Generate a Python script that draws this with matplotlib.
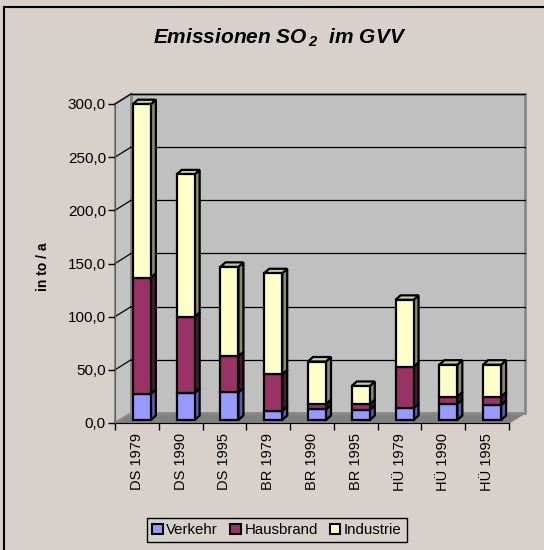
import matplotlib
matplotlib.use("Agg")
import matplotlib.pyplot as plt
from matplotlib.patches import Polygon, Patch, Rectangle

# --- data ---
categories = ["DS 1979", "DS 1990", "DS 1995", "BR 1979", "BR 1990",
              "BR 1995", "HÜ 1979", "HÜ 1990", "HÜ 1995"]
verkehr = [24.5, 25.5, 26.0, 8.5, 10.0, 9.5, 11.0, 15.0, 14.0]
hausbrand = [109.5, 71.5, 34.0, 34.5, 5.0, 5.5, 39.0, 7.0, 8.0]
industrie = [163.0, 134.0, 84.0, 95.0, 40.0, 17.0, 63.0, 30.0, 30.0]
series_names = ["Verkehr", "Hausbrand", "Industrie"]
yticks = [0, 50, 100, 150, 200, 250, 300]

front_colors = ["#9999FF", "#993366", "#FFFFCC"]
side_colors = ["#5C5CA8", "#4A1830", "#8A8A6C"]
top_color = "#CCCCA4"
bg = "#D8D1CB"

plt.rcParams['font.family'] = ['Liberation Sans', 'DejaVu Sans']

W, H = 544, 550
fig = plt.figure(figsize=(W / 100, H / 100), dpi=100)
fig.patch.set_facecolor(bg)

# front plane of the 3D box in pixels
x0, x1 = 115, 509
y_bot, y_top = 423, 104
ax = fig.add_axes([x0 / W, 1 - y_bot / H, (x1 - x0) / W, (y_bot - y_top) / H])
ax.set_xlim(-0.5, len(categories) - 0.5)
ax.set_ylim(0, 300)
ax.patch.set_visible(False)

px_x = (x1 - x0) / len(categories)
px_y = (y_bot - y_top) / 300.0

# wall depth and bar geometry (pixels -> data units)
wdx, wdy = 16 / px_x, 10 / px_y
bdx, bdy = 5 / px_x, 4.5 / px_y
ox, oy = 5 / px_x, 3 / px_y
bw = 18 / px_x

xl, xr = -0.5, len(categories) - 0.5
kw = dict(clip_on=False)
# floor
ax.add_patch(Polygon([(xl, 0), (xr, 0), (xr + wdx, wdy), (xl + wdx, wdy)],
                     closed=True, facecolor="#808080", edgecolor="#808080", lw=1, zorder=1, **kw))
# left wall
ax.add_patch(Polygon([(xl, 0), (xl + wdx, wdy), (xl + wdx, 300 + wdy), (xl, 300)],
                     closed=True, facecolor="#C4C4C4", edgecolor="#8C8C8C", lw=1.5, zorder=1, **kw))
# back wall
ax.add_patch(Polygon([(xl + wdx, wdy), (xr + wdx, wdy), (xr + wdx, 300 + wdy), (xl + wdx, 300 + wdy)],
                     closed=True, facecolor="#C0C0C0", edgecolor="#888888", lw=2, zorder=1, **kw))
for v in yticks[1:]:
    ax.plot([xl + wdx, xr + wdx], [v + wdy, v + wdy], color="black", lw=0.9, zorder=2, **kw)
    ax.plot([xl, xl + wdx], [v, v + wdy], color="black", lw=0.9, zorder=2, **kw)

# stacked bars with fake depth
stacks = [verkehr, hausbrand, industrie]
bottoms = [0.0] * len(categories)
for s, vals in enumerate(stacks):
    for i, v in enumerate(vals):
        b = bottoms[i]
        t = b + v
        left = i - bw / 2 + ox
        right = i + bw / 2 + ox
        ax.bar(left, v, bottom=b + oy, width=bw, align="edge", color=front_colors[s],
               edgecolor="black", lw=1.6, zorder=4, clip_on=False)
        ax.add_patch(Polygon([(right, b + oy), (right + bdx, b + oy + bdy),
                              (right + bdx, t + oy + bdy), (right, t + oy)],
                             closed=True, facecolor=side_colors[s], edgecolor="black",
                             lw=1.6, zorder=3, **kw))
        if s == len(stacks) - 1:
            ax.add_patch(Polygon([(left, t + oy), (left + bdx, t + oy + bdy),
                                  (right + bdx, t + oy + bdy), (right, t + oy)],
                                 closed=True, facecolor=top_color, edgecolor="black",
                                 lw=1.6, zorder=3, **kw))
        bottoms[i] = t

# axes
for side in ["top", "right"]:
    ax.spines[side].set_visible(False)
ax.spines["left"].set_color("#606060")
ax.spines["bottom"].set_color("black")
ax.spines["left"].set_zorder(5)
ax.set_yticks(yticks)
ax.set_yticklabels([f"{v:.1f}".replace(".", ",") for v in yticks], fontsize=11)
ax.tick_params(axis="y", length=5, width=1, pad=1.5, color="black")
ax.set_xticks(range(len(categories)))
ax.set_xticklabels(categories, rotation=90, fontsize=10.5)
ax.set_xticks([k - 0.5 for k in range(len(categories) + 1)], minor=True)
ax.tick_params(axis="x", which="major", length=0, pad=7)
ax.tick_params(axis="x", which="minor", length=5, width=1, color="black")

fig.text(43 / W, 1 - 267 / H, "in to / a", rotation=90, fontsize=10, fontweight="bold",
         ha="center", va="center")

plt.rcParams['mathtext.fontset'] = 'custom'
plt.rcParams['mathtext.it'] = 'Liberation Sans:italic:bold'
plt.rcParams['mathtext.rm'] = 'Liberation Sans:italic:bold'
fig.text(280 / W, 1 - 38 / H, r"Emissionen SO$_{\,2}$  im GVV", fontsize=15,
         fontweight="bold", style="italic", ha="center", va="center")

handles = [Patch(facecolor=c, edgecolor="black", lw=1.5) for c in front_colors]
leg = fig.legend(handles, series_names, loc="center", ncol=3,
                 bbox_to_anchor=(277 / W, 1 - 530 / H), fontsize=10.8,
                 frameon=True, fancybox=False, edgecolor="black", facecolor=bg,
                 handlelength=0.7, handleheight=0.7, handletextpad=0.25,
                 columnspacing=0.8, borderpad=0.35, borderaxespad=0)
leg.get_frame().set_linewidth(1)
leg.get_frame().set_alpha(None)

# outer chart border (right/bottom cut off in reference)
fig.add_artist(Rectangle((4 / W, -0.02), 1.1, 1 - 7 / H + 0.02, transform=fig.transFigure,
                         fill=False, edgecolor="black", lw=1.5))

fig.savefig("out.png", dpi=100, facecolor=bg)
